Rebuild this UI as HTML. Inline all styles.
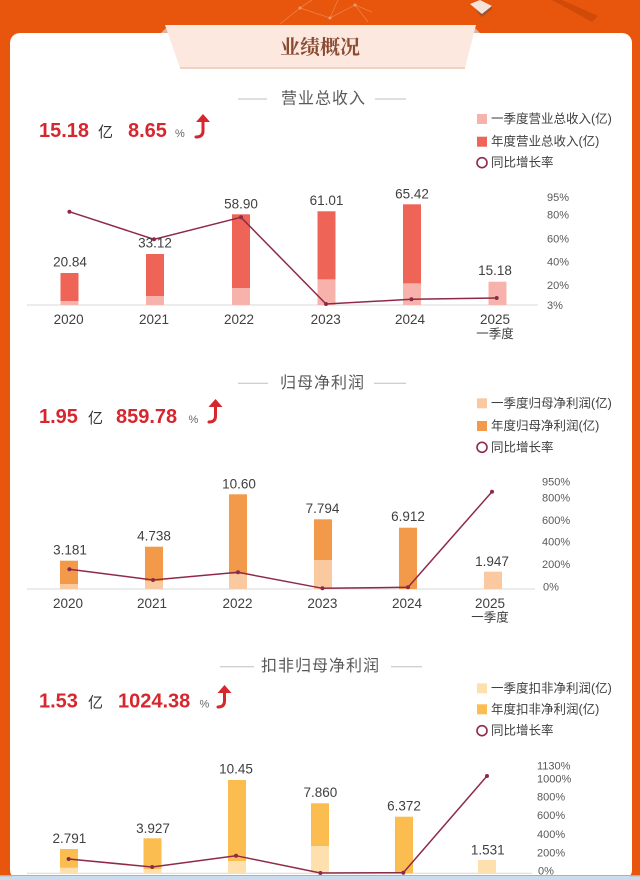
<!DOCTYPE html>
<html><head><meta charset="utf-8">
<style>
html,body{margin:0;padding:0;width:640px;height:880px;overflow:hidden;background:#e8560e;}
svg{display:block;}
text{font-family:"Liberation Sans","Noto Sans CJK SC",sans-serif;}
.lbl{font-size:13.5px;fill:#404040;}
.ax{font-size:11px;fill:#595959;}
.lg{font-size:12.5px;fill:#404040;}
.tt{font-size:16px;fill:#595959;letter-spacing:1px;}
.big{font-size:20px;font-weight:bold;fill:#d7262e;}
.yi{font-size:15px;fill:#333;}
.pc{font-size:11px;fill:#666;}
</style></head>
<body>
<svg width="640" height="880" viewBox="0 0 640 880" xmlns="http://www.w3.org/2000/svg">
<rect x="0" y="0" width="640" height="880" fill="#e8560e"/>
<!-- top decorations -->
<g stroke="#f08a55" stroke-width="0.8" fill="none" opacity="0.8">
<path d="M280 24 L300 8 L330 18 L355 5 L368 22 M300 8 L312 0 M330 18 L338 0 M355 5 L372 12"/>
</g>
<g fill="#f29a6a"><circle cx="300" cy="8" r="1.5"/><circle cx="330" cy="18" r="1.5"/><circle cx="355" cy="5" r="1.5"/></g>
<polygon points="470,4 480,0 492,6 482,14" fill="#f4e4da"/>
<polygon points="475,10 482,14 492,6 492,9 482,17" fill="#a0522d"/>
<polygon points="552,0 562,0 598,16 592,22" fill="#d04a08"/>
<!-- card -->
<rect x="10" y="33" width="622" height="847" rx="10" ry="10" fill="#ffffff"/>
<!-- banner -->
<polygon points="161,33 169,25 169,33" fill="#d9b49e"/>
<polygon points="480,33 472,25 472,33" fill="#d9b49e"/>
<polygon points="165,25 476,25 465,68 180,68" fill="#fce8de"/>
<line x1="180" y1="68" x2="465" y2="68" stroke="#f0d2c2" stroke-width="2"/>
<text x="320" y="54" text-anchor="middle" style="font-family:'Noto Serif CJK SC','Noto Sans CJK SC',serif;font-size:20px;font-weight:bold;fill:#8a4b33;">业绩概况</text>

<!-- ===== Section 1 ===== -->
<line x1="238" y1="99" x2="267" y2="99" stroke="#bfbfbf" stroke-width="1"/>
<line x1="375" y1="99" x2="406" y2="99" stroke="#bfbfbf" stroke-width="1"/>
<text class="tt" x="281" y="99" dominant-baseline="central">营业总收入</text>
<text class="big" x="39" y="137">15.18</text>
<text class="yi" x="98" y="137">亿</text>
<text class="big" x="128" y="137">8.65</text>
<text class="pc" x="175" y="137">%</text>
<g stroke="#d7262e" stroke-width="3" fill="none" stroke-linecap="round"><path d="M203 120 L203 131 Q203 137 196 137"/></g>
<polygon points="196,122 203,114 210,122" fill="#d7262e"/>
<!-- legend 1 -->
<rect x="477" y="114" width="10" height="10" fill="#f7b3ab"/>
<text class="lg" x="491" y="119" dominant-baseline="central">一季度营业总收入(亿)</text>
<rect x="477" y="136.7" width="10" height="10" fill="#ee6457"/>
<text class="lg" x="491" y="141.7" dominant-baseline="central">年度营业总收入(亿)</text>
<circle cx="482" cy="162.7" r="5" fill="none" stroke="#8e2a48" stroke-width="1.6"/>
<text class="lg" x="491" y="162.7" dominant-baseline="central">同比增长率</text>
<!-- chart 1 -->
<line x1="27" y1="305" x2="538" y2="305" stroke="#d9d9d9" stroke-width="1"/>
<g fill="#ee6457">
<rect x="60.5" y="273" width="18" height="32"/>
<rect x="146" y="254" width="18" height="51"/>
<rect x="232" y="214.3" width="18" height="90.7"/>
<rect x="317.5" y="211.3" width="18" height="93.7"/>
<rect x="403" y="204.3" width="18" height="100.7"/>
</g>
<g fill="#f7b3ab">
<rect x="60.5" y="301" width="18" height="4"/>
<rect x="146" y="296" width="18" height="9"/>
<rect x="232" y="288" width="18" height="17"/>
<rect x="317.5" y="279.3" width="18" height="25.7"/>
<rect x="403" y="283.3" width="18" height="21.7"/>
<rect x="488.5" y="281.7" width="18" height="23.3"/>
</g>
<polyline points="69.4,211.7 154,239.3 241,217.3 326,304 411.4,299.3 496.7,298" fill="none" stroke="#8e2a48" stroke-width="1.5"/>
<g fill="#8e2a48"><circle cx="69.4" cy="211.7" r="2"/><circle cx="154" cy="239.3" r="2"/><circle cx="241" cy="217.3" r="2"/><circle cx="326" cy="304" r="2"/><circle cx="411.4" cy="299.3" r="2"/><circle cx="496.7" cy="298" r="2"/></g>
<g>
<text class="lbl" x="70" y="262" text-anchor="middle" dominant-baseline="central">20.84</text>
<text class="lbl" x="155" y="243" text-anchor="middle" dominant-baseline="central">33.12</text>
<text class="lbl" x="241" y="204" text-anchor="middle" dominant-baseline="central">58.90</text>
<text class="lbl" x="326.5" y="200.7" text-anchor="middle" dominant-baseline="central">61.01</text>
<text class="lbl" x="412" y="194" text-anchor="middle" dominant-baseline="central">65.42</text>
<text class="lbl" x="495" y="270.7" text-anchor="middle" dominant-baseline="central">15.18</text>
<text class="lbl" x="68.6" y="319.3" text-anchor="middle" dominant-baseline="central">2020</text>
<text class="lbl" x="154" y="319.3" text-anchor="middle" dominant-baseline="central">2021</text>
<text class="lbl" x="239" y="319.3" text-anchor="middle" dominant-baseline="central">2022</text>
<text class="lbl" x="325.7" y="319.3" text-anchor="middle" dominant-baseline="central">2023</text>
<text class="lbl" x="410" y="319.3" text-anchor="middle" dominant-baseline="central">2024</text>
<text class="lbl" x="495" y="319.3" text-anchor="middle" dominant-baseline="central">2025</text>
<text class="lbl" x="495" y="334" text-anchor="middle" dominant-baseline="central" style="font-size:12.5px">一季度</text>
</g>
<g>
<text class="ax" x="547" y="198" dominant-baseline="central">95%</text>
<text class="ax" x="547" y="215.7" dominant-baseline="central">80%</text>
<text class="ax" x="547" y="239.3" dominant-baseline="central">60%</text>
<text class="ax" x="547" y="262.3" dominant-baseline="central">40%</text>
<text class="ax" x="547" y="286" dominant-baseline="central">20%</text>
<text class="ax" x="547" y="306" dominant-baseline="central">3%</text>
</g>

<!-- ===== Section 2 ===== -->
<line x1="238" y1="383.3" x2="268" y2="383.3" stroke="#bfbfbf" stroke-width="1"/>
<line x1="374" y1="383.3" x2="406" y2="383.3" stroke="#bfbfbf" stroke-width="1"/>
<text class="tt" x="280" y="383.3" dominant-baseline="central">归母净利润</text>
<text class="big" x="39" y="423">1.95</text>
<text class="yi" x="88" y="423">亿</text>
<text class="big" x="116" y="423">859.78</text>
<text class="pc" x="188.5" y="423">%</text>
<g stroke="#d7262e" stroke-width="3" fill="none" stroke-linecap="round"><path d="M215.5 405 L215.5 416 Q215.5 422 209 422"/></g>
<polygon points="208.5,407 215.5,399 222.5,407" fill="#d7262e"/>
<!-- legend 2 -->
<rect x="477" y="398.3" width="10" height="10" fill="#fac99f"/>
<text class="lg" x="491" y="403.3" dominant-baseline="central">一季度归母净利润(亿)</text>
<rect x="477" y="421" width="10" height="10" fill="#f29a4a"/>
<text class="lg" x="491" y="426" dominant-baseline="central">年度归母净利润(亿)</text>
<circle cx="482" cy="447.3" r="5" fill="none" stroke="#8e2a48" stroke-width="1.6"/>
<text class="lg" x="491" y="447.3" dominant-baseline="central">同比增长率</text>
<!-- chart 2 -->
<line x1="27" y1="589" x2="535" y2="589" stroke="#d9d9d9" stroke-width="1"/>
<g fill="#f29a4a">
<rect x="60" y="560.7" width="18" height="28.3"/>
<rect x="145" y="546.7" width="18" height="42.3"/>
<rect x="229" y="494.3" width="18" height="94.7"/>
<rect x="314" y="519.3" width="18" height="69.7"/>
<rect x="399" y="527.7" width="18" height="61.3"/>
</g>
<g fill="#fac99f">
<rect x="60" y="584" width="18" height="5"/>
<rect x="145" y="581" width="18" height="8"/>
<rect x="229" y="574" width="18" height="15"/>
<rect x="314" y="560" width="18" height="29"/>
<rect x="484" y="571.7" width="18" height="17.3"/>
</g>
<polyline points="69.4,569.3 153,580 238,572.3 322.4,588.3 408,587.3 492,491.7" fill="none" stroke="#8e2a48" stroke-width="1.5"/>
<g fill="#8e2a48"><circle cx="69.4" cy="569.3" r="2"/><circle cx="153" cy="580" r="2"/><circle cx="238" cy="572.3" r="2"/><circle cx="322.4" cy="588.3" r="2"/><circle cx="408" cy="587.3" r="2"/><circle cx="492" cy="491.7" r="2"/></g>
<g>
<text class="lbl" x="70" y="550" text-anchor="middle" dominant-baseline="central">3.181</text>
<text class="lbl" x="154" y="536" text-anchor="middle" dominant-baseline="central">4.738</text>
<text class="lbl" x="239" y="484" text-anchor="middle" dominant-baseline="central">10.60</text>
<text class="lbl" x="322.5" y="508.3" text-anchor="middle" dominant-baseline="central">7.794</text>
<text class="lbl" x="408" y="516.7" text-anchor="middle" dominant-baseline="central">6.912</text>
<text class="lbl" x="492" y="561.7" text-anchor="middle" dominant-baseline="central">1.947</text>
<text class="lbl" x="68" y="603.3" text-anchor="middle" dominant-baseline="central">2020</text>
<text class="lbl" x="152" y="603.3" text-anchor="middle" dominant-baseline="central">2021</text>
<text class="lbl" x="237.5" y="603.3" text-anchor="middle" dominant-baseline="central">2022</text>
<text class="lbl" x="322.4" y="603.3" text-anchor="middle" dominant-baseline="central">2023</text>
<text class="lbl" x="407" y="603.3" text-anchor="middle" dominant-baseline="central">2024</text>
<text class="lbl" x="490" y="603.3" text-anchor="middle" dominant-baseline="central">2025</text>
<text class="lbl" x="490" y="617.7" text-anchor="middle" dominant-baseline="central" style="font-size:12.5px">一季度</text>
</g>
<g>
<text class="ax" x="542" y="482.7" dominant-baseline="central">950%</text>
<text class="ax" x="542" y="498.3" dominant-baseline="central">800%</text>
<text class="ax" x="542" y="521" dominant-baseline="central">600%</text>
<text class="ax" x="542" y="542.7" dominant-baseline="central">400%</text>
<text class="ax" x="542" y="565" dominant-baseline="central">200%</text>
<text class="ax" x="543" y="587.3" dominant-baseline="central">0%</text>
</g>

<!-- ===== Section 3 ===== -->
<line x1="220" y1="666.7" x2="254" y2="666.7" stroke="#bfbfbf" stroke-width="1"/>
<line x1="391" y1="666.7" x2="422" y2="666.7" stroke="#bfbfbf" stroke-width="1"/>
<text class="tt" x="261" y="666.7" dominant-baseline="central">扣非归母净利润</text>
<text class="big" x="39" y="707.5">1.53</text>
<text class="yi" x="88" y="707.5">亿</text>
<text class="big" x="118" y="707.5">1024.38</text>
<text class="pc" x="199.5" y="707.5">%</text>
<g stroke="#d7262e" stroke-width="3" fill="none" stroke-linecap="round"><path d="M224.5 691 L224.5 701 Q224.5 707 218 707"/></g>
<polygon points="217.5,693 224.5,685 231.5,693" fill="#d7262e"/>
<!-- legend 3 -->
<rect x="477" y="683.3" width="10" height="10" fill="#fde0ad"/>
<text class="lg" x="491" y="688.3" dominant-baseline="central">一季度扣非净利润(亿)</text>
<rect x="477" y="704.3" width="10" height="10" fill="#fbbd50"/>
<text class="lg" x="491" y="709.3" dominant-baseline="central">年度扣非净利润(亿)</text>
<circle cx="482" cy="730.7" r="5" fill="none" stroke="#8e2a48" stroke-width="1.6"/>
<text class="lg" x="491" y="730.7" dominant-baseline="central">同比增长率</text>
<!-- chart 3 -->
<line x1="27" y1="873.3" x2="532" y2="873.3" stroke="#d9d9d9" stroke-width="1"/>
<g fill="#fbbd50">
<rect x="60" y="849" width="18" height="24.3"/>
<rect x="143.5" y="838.3" width="18" height="35"/>
<rect x="228" y="780" width="18" height="93.3"/>
<rect x="311" y="803.3" width="18" height="70"/>
<rect x="395" y="816.7" width="18" height="56.6"/>
</g>
<g fill="#fde0ad">
<rect x="60" y="867.7" width="18" height="5.6"/>
<rect x="143.5" y="869" width="18" height="4.3"/>
<rect x="228" y="861" width="18" height="12.3"/>
<rect x="311" y="846" width="18" height="27.3"/>
<rect x="478" y="860" width="18" height="13.3"/>
</g>
<polyline points="68.6,859 152.2,867 236,855.7 320.4,873 403.3,872.7 487,776" fill="none" stroke="#8e2a48" stroke-width="1.5"/>
<g fill="#8e2a48"><circle cx="68.6" cy="859" r="2"/><circle cx="152.2" cy="867" r="2"/><circle cx="236" cy="855.7" r="2"/><circle cx="320.4" cy="873" r="2"/><circle cx="403.3" cy="872.7" r="2"/><circle cx="487" cy="776" r="2"/></g>
<g>
<text class="lbl" x="69.4" y="838.3" text-anchor="middle" dominant-baseline="central">2.791</text>
<text class="lbl" x="153" y="828.3" text-anchor="middle" dominant-baseline="central">3.927</text>
<text class="lbl" x="236" y="769" text-anchor="middle" dominant-baseline="central">10.45</text>
<text class="lbl" x="320.4" y="792.3" text-anchor="middle" dominant-baseline="central">7.860</text>
<text class="lbl" x="404" y="806" text-anchor="middle" dominant-baseline="central">6.372</text>
<text class="lbl" x="487.8" y="850" text-anchor="middle" dominant-baseline="central">1.531</text>
</g>
<g>
<text class="ax" x="537" y="766.7" dominant-baseline="central">1130%</text>
<text class="ax" x="537" y="779.3" dominant-baseline="central">1000%</text>
<text class="ax" x="537" y="797.7" dominant-baseline="central">800%</text>
<text class="ax" x="537" y="816" dominant-baseline="central">600%</text>
<text class="ax" x="537" y="835" dominant-baseline="central">400%</text>
<text class="ax" x="537" y="853.3" dominant-baseline="central">200%</text>
<text class="ax" x="538" y="871.5" dominant-baseline="central">0%</text>
</g>
<!-- bottom strip -->
<rect x="0" y="875" width="640" height="1.2" fill="#9fb3c6"/>
<rect x="0" y="876.2" width="640" height="3.8" fill="#c9dcef"/>
</svg>
</body></html>
